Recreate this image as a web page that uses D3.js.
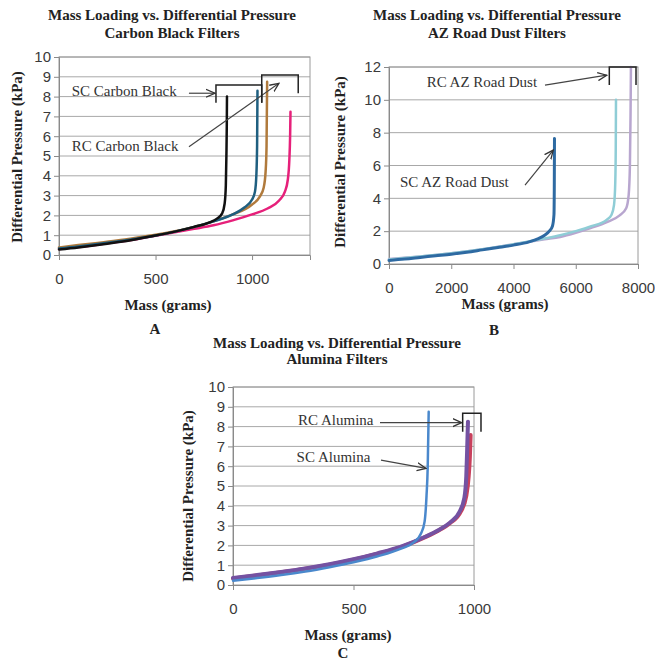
<!DOCTYPE html>
<html>
<head>
<meta charset="utf-8">
<style>
  body { margin: 0; background: #fff; }
  svg { display: block; }
  .tick text { font-family: "Liberation Sans", Arial, sans-serif; font-size: 15px; fill: #3a3a3a; }
  .ttl { font-family: "Liberation Serif", "Times New Roman", serif; font-weight: bold; font-size: 15px; fill: #222; }
  .note { font-family: "Liberation Serif", "Times New Roman", serif; font-size: 15px; fill: #333; }
</style>
</head>
<body>
<svg width="655" height="666"></svg>
<script src="https://d3js.org/d3.v7.min.js"></script>
<script>
// ---- data: [mass g, pressure kPa] ----

// panel A - carbon black
const cbBlack = [[0,0.28],[100,0.38],[200,0.5],[300,0.64],[400,0.8],[500,0.98],[600,1.18],[700,1.42],[780,1.65],[820,1.85],[845,2.1],[858,2.6],[864,3.5],[867,5],[869,6.5],[870,8.0]];
const cbTeal  = [[0,0.33],[100,0.43],[200,0.55],[300,0.68],[400,0.82],[500,0.98],[600,1.18],[700,1.42],[800,1.7],[900,2.05],[960,2.4],[1000,2.8],[1015,3.2],[1022,4],[1026,5.5],[1028,8.3]];
const cbBrown = [[0,0.38],[100,0.5],[200,0.61],[300,0.73],[400,0.87],[500,1.02],[600,1.2],[700,1.42],[800,1.7],[900,2.05],[1000,2.55],[1040,2.95],[1060,3.4],[1070,4.2],[1075,5.5],[1078,8.75]];
const cbPink  = [[0,0.3],[100,0.4],[200,0.52],[300,0.65],[400,0.8],[500,0.97],[600,1.15],[700,1.32],[800,1.5],[900,1.75],[1000,2.05],[1080,2.35],[1140,2.75],[1170,3.2],[1185,3.8],[1193,4.8],[1197,6],[1199,7.24]];

// panel B - AZ road dust
const azDark   = [[0,0.22],[500,0.3],[1000,0.4],[1500,0.5],[2000,0.6],[2500,0.72],[3000,0.86],[3500,1.0],[4000,1.15],[4500,1.35],[4800,1.55],[5000,1.75],[5150,2.0],[5250,2.3],[5300,3.0],[5310,4.5],[5317,7.64]];
const azCyan   = [[0,0.28],[1000,0.45],[2000,0.65],[3000,0.9],[4000,1.2],[5000,1.55],[5500,1.75],[6000,2.0],[6500,2.3],[7000,2.7],[7150,3.0],[7230,3.6],[7270,5],[7285,7],[7293,10]];
const azPurple = [[0,0.3],[1000,0.45],[2000,0.65],[3000,0.9],[4000,1.2],[5000,1.5],[5500,1.65],[6000,1.9],[6500,2.2],[7000,2.55],[7400,2.95],[7620,3.4],[7700,4.2],[7740,6],[7760,9],[7773,12]];

// panel C - alumina
const alBlue   = [[0,0.22],[100,0.35],[200,0.5],[300,0.68],[400,0.9],[500,1.15],[600,1.45],[700,1.85],[750,2.15],[780,2.6],[795,3.2],[803,4.5],[808,6],[812,8.75]];
const alPurple = [[0,0.35],[100,0.5],[200,0.66],[300,0.84],[400,1.05],[500,1.3],[600,1.6],[700,1.95],[800,2.45],[850,2.75],[900,3.15],[940,3.7],[960,4.4],[968,5.5],[972,7],[975,8.25]];
const alRed    = [[0,0.33],[100,0.48],[200,0.64],[300,0.82],[400,1.03],[500,1.28],[600,1.58],[700,1.93],[800,2.43],[850,2.73],[900,3.12],[945,3.7],[968,4.5],[978,5.5],[983,6.5],[986,7.57]];

// tick labels
const xTicksA = [0, 500, 1000];
const yTicksA = [0, 1, 2, 3, 4, 5, 6, 7, 8, 9, 10];
const xTicksB = [0, 2000, 4000, 6000, 8000];
const yTicksB = [0, 2, 4, 6, 8, 10, 12];
const xTicksC = [0, 500, 1000];
const yTicksC = [0, 1, 2, 3, 4, 5, 6, 7, 8, 9, 10];

const svg = d3.select("svg");

// open arrow head
svg.append("defs").append("marker")
  .attr("id", "arr")
  .attr("viewBox", "0 0 10 10")
  .attr("refX", 9).attr("refY", 5)
  .attr("markerWidth", 10).attr("markerHeight", 10)
  .attr("markerUnits", "userSpaceOnUse")
  .attr("orient", "auto")
  .append("path")
  .attr("d", "M0,1 L9,5 L0,9")
  .attr("fill", "none")
  .attr("stroke", "#333")
  .attr("stroke-width", 1.3);

function panel(p) {
  const g = svg.append("g");
  const x = d3.scaleLinear().domain(p.xDom).range(p.xr);
  const y = d3.scaleLinear().domain(p.yDom).range(p.yr);

  // gridlines
  g.selectAll(".grid")
    .data(p.yTicks.slice(1))
    .join("line")
    .attr("x1", p.xr[0]).attr("x2", p.xr[1])
    .attr("y1", d => y(d)).attr("y2", d => y(d))
    .attr("stroke", "#a8a8a8").attr("stroke-width", 1);

  // plot border
  g.append("rect")
    .attr("x", p.xr[0]).attr("y", p.yr[1])
    .attr("width", p.xr[1] - p.xr[0]).attr("height", p.yr[0] - p.yr[1])
    .attr("fill", "none").attr("stroke", "#9a9a9a");

  // axes
  const ax = g.append("g")
    .attr("transform", `translate(0,${p.yr[0]})`)
    .call(d3.axisBottom(x).tickValues(p.xTicks).tickSize(5).tickPadding(13).tickFormat(d3.format("d")));
  const ay = g.append("g")
    .attr("transform", `translate(${p.xr[0]},0)`)
    .call(d3.axisLeft(y).tickValues(p.yTicks).tickSize(5).tickPadding(3).tickFormat(d3.format("d")));
  [ax, ay].forEach(a => {
    a.select(".domain").attr("stroke", "#8a8a8a");
    a.selectAll(".tick line").attr("stroke", "#8a8a8a");
  });

  // series
  const line = d3.line().x(d => x(d[0])).y(d => y(d[1])).curve(d3.curveMonotoneX);
  p.series.forEach(s => {
    g.append("path")
      .datum(s.data)
      .attr("d", line)
      .attr("fill", "none")
      .attr("stroke", s.color)
      .attr("stroke-width", s.w)
      .attr("stroke-linejoin", "round")
      .attr("stroke-linecap", "round");
  });

  // annotation arrows
  p.arrows.forEach(a => {
    g.append("line")
      .attr("x1", x(a[0])).attr("y1", y(a[1]))
      .attr("x2", x(a[2])).attr("y2", y(a[3]))
      .attr("stroke", "#444").attr("stroke-width", 1.2)
      .attr("marker-end", "url(#arr)");
  });

  // brackets: [xLeft, xRight, yTop, yLeftBottom, yRightBottom]
  p.brackets.forEach(b => {
    g.append("path")
      .attr("d", `M${x(b[0])},${y(b[3])} V${y(b[2])} H${x(b[1])} V${y(b[4])}`)
      .attr("fill", "none").attr("stroke", "#222").attr("stroke-width", 1.5);
  });

  p.notes.forEach(n => {
    g.append("text").attr("class", "note")
      .attr("x", x(n[1])).attr("y", y(n[2]))
      .text(n[0]);
  });

  // titles
  p.title.forEach((t, i) => {
    g.append("text").attr("class", "ttl")
      .attr("x", p.titleX).attr("y", p.titleY[i])
      .attr("text-anchor", "middle").text(t);
  });
  g.append("text").attr("class", "ttl")
    .attr("transform", `translate(${p.yTitle[0]},${p.yTitle[1]}) rotate(-90)`)
    .attr("text-anchor", "middle").text("Differential Pressure (kPa)");
  g.append("text").attr("class", "ttl")
    .attr("x", p.xTitle[0]).attr("y", p.xTitle[1])
    .attr("text-anchor", "middle").text("Mass (grams)");
  g.append("text").attr("class", "ttl")
    .attr("x", p.letter[1]).attr("y", p.letter[2])
    .attr("text-anchor", "middle").text(p.letter[0]);
}

panel({
  xDom: [0, 1300], yDom: [0, 10], xr: [59, 310], yr: [255, 57],
  xTicks: xTicksA, yTicks: yTicksA,
  series: [
    { data: cbPink,  color: "#e6207a", w: 2.5 },
    { data: cbBrown, color: "#b07a3c", w: 2.5 },
    { data: cbTeal,  color: "#1f5f80", w: 2.5 },
    { data: cbBlack, color: "#111111", w: 2.5 }
  ],
  arrows: [[673, 8.17, 808, 8.17], [673, 5.47, 1139, 8.67]],
  brackets: [[813, 1050, 8.59, 7.69, 7.69], [1050, 1239, 9.09, 7.69, 8.17]],
  notes: [["SC Carbon Black", 66, 8.03], ["RC Carbon Black", 66, 5.25]],
  title: ["Mass Loading vs. Differential Pressure", "Carbon Black Filters"],
  titleX: 172, titleY: [20, 38],
  yTitle: [22, 157], xTitle: [168, 310], letter: ["A", 155, 334]
});

panel({
  xDom: [0, 8000], yDom: [0, 12], xr: [389, 638], yr: [264, 67],
  xTicks: xTicksB, yTicks: yTicksB,
  series: [
    { data: azPurple, color: "#b8a6cf", w: 2.5 },
    { data: azCyan,   color: "#8fcdd6", w: 2.5 },
    { data: azDark,   color: "#2e6aa2", w: 3 }
  ],
  arrows: [[5012, 10.9, 6994, 11.5], [4370, 4.81, 5279, 6.94]],
  brackets: [[7078, 7936, 12, 10.9, 10.9]],
  notes: [["RC AZ Road Dust", 1211, 10.8], ["SC AZ Road Dust", 353, 4.7]],
  title: ["Mass Loading vs. Differential Pressure", "AZ Road Dust Filters"],
  titleX: 497, titleY: [20, 38],
  yTitle: [345, 162], xTitle: [505, 309], letter: ["B", 494, 335]
});

panel({
  xDom: [0, 1000], yDom: [0, 10], xr: [233, 474], yr: [585, 387],
  xTicks: xTicksC, yTicks: yTicksC,
  series: [
    { data: alRed,    color: "#c8405c", w: 4 },
    { data: alPurple, color: "#7452a2", w: 4 },
    { data: alBlue,   color: "#4a88cc", w: 2.5 }
  ],
  arrows: [[610, 8.2, 949, 8.2], [614, 6.31, 801, 5.89]],
  brackets: [[953, 1029, 8.67, 7.74, 7.74]],
  notes: [["RC Alumina", 270, 8.08], ["SC Alumina", 264, 6.23]],
  title: ["Mass Loading vs. Differential Pressure", "Alumina Filters"],
  titleX: 337, titleY: [348, 364],
  yTitle: [193, 496], xTitle: [348, 640], letter: ["C", 343, 658]
});
</script>
</body>
</html>
